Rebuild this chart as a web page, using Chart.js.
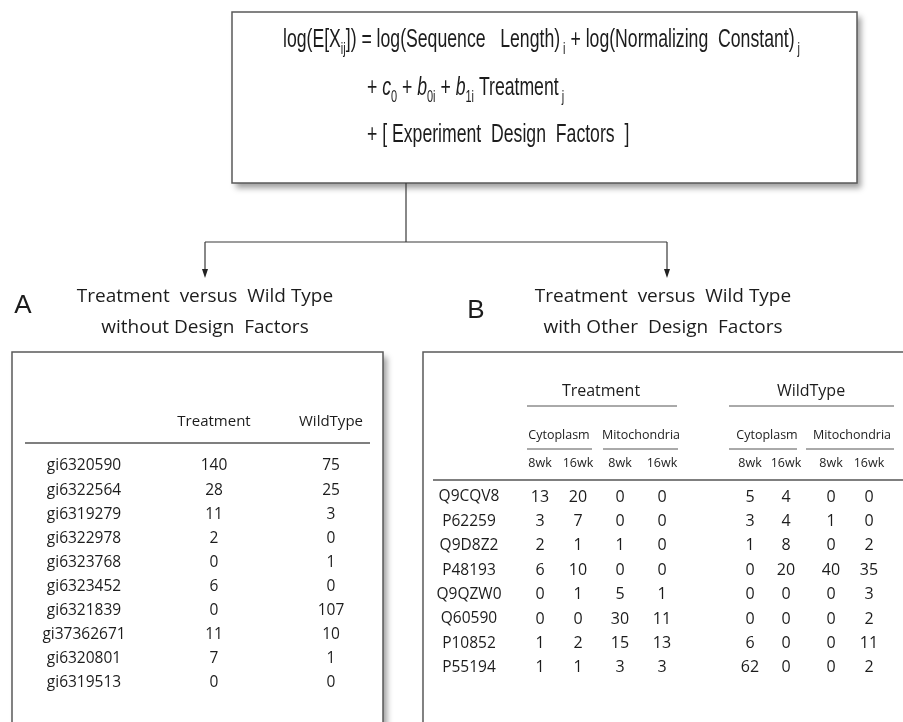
<!DOCTYPE html>
<html>
<head>
<meta charset="utf-8">
<title>Spectral count model</title>
<script src="https://cdn.jsdelivr.net/npm/chart.js@4.4.1/dist/chart.umd.min.js"></script>
<style>
  html, body { margin: 0; padding: 0; background: #ffffff; }
  #wrap { width: 903px; height: 722px; position: relative; }
</style>
</head>
<body>
<div id="wrap"><canvas id="c"></canvas></div>
<script>
// ---- Table A: treatment versus wild type, no design factors ----
const proteinsA = ['gi6320590', 'gi6322564', 'gi6319279', 'gi6322978', 'gi6323768',
                   'gi6323452', 'gi6321839', 'gi37362671', 'gi6320801', 'gi6319513'];
const columnsA = ['Treatment', 'WildType'];
const treatmentA = [140, 28, 11, 2, 0, 6, 0, 11, 7, 0];
const wildTypeA = [75, 25, 3, 0, 1, 0, 107, 10, 1, 0];

// ---- Table B: treatment versus wild type with compartment and time factors ----
const proteinsB = ['Q9CQV8', 'P62259', 'Q9D8Z2', 'P48193', 'Q9QZW0', 'Q60590', 'P10852', 'P55194'];
const groupsB = ['Treatment', 'WildType'];
const compartmentsB = ['Cytoplasm', 'Mitochondria'];
const timepointsB = ['8wk', '16wk'];
const treatCyto8 = [13, 3, 2, 6, 0, 0, 1, 1];
const treatCyto16 = [20, 7, 1, 10, 1, 0, 2, 1];
const treatMito8 = [0, 0, 1, 0, 5, 30, 15, 3];
const treatMito16 = [0, 0, 0, 0, 1, 11, 13, 3];
const wildCyto8 = [5, 3, 1, 0, 0, 0, 6, 62];
const wildCyto16 = [4, 4, 8, 20, 0, 0, 0, 0];
const wildMito8 = [0, 1, 0, 40, 0, 0, 0, 0];
const wildMito16 = [0, 0, 2, 35, 3, 2, 11, 2];

// ---- Panel titles ----
const panelLetters = ['A', 'B'];
const panelTitlesA = ['Treatment  versus  Wild Type', 'without Design  Factors'];
const panelTitlesB = ['Treatment  versus  Wild Type', 'with Other  Design  Factors'];

// ---- Model formula, split into runs (sub = subscript, it = italic) ----
const formulaLines = [
  [{t: 'log(E[X'}, {t: 'ij', sub: true}, {t: ']) = log(Sequence   Length)'}, {t: ' i', sub: true},
   {t: ' + log(Normalizing  Constant)'}, {t: ' j', sub: true}],
  [{t: '+ '}, {t: 'c', it: true}, {t: '0', sub: true}, {t: ' + '}, {t: 'b', it: true}, {t: '0i', sub: true},
   {t: ' + '}, {t: 'b', it: true}, {t: '1i', sub: true}, {t: ' Treatment'}, {t: ' j', sub: true}],
  [{t: '+ [ Experiment  Design  Factors  ]'}]
];

// ---- Layout (page units, mapped through the chart's x / y scales) ----
const L = {
  formulaBox: {x0: 232, y0: 12, x1: 857, y1: 183},
  formulaX: [283, 367, 367],
  formulaY: [47, 95, 142],
  formulaSize: 26.5,
  formulaWidth: 517,
  stemX: 406, branchY: 242, arrowA: 205, arrowB: 667, arrowTip: 278,
  letterPos: [[23, 306], [476, 311]],
  titleA: {x: 205, y: [297, 328]},
  titleB: {x: 663, y: [297, 328]},
  boxA: {x0: 12, y0: 352, x1: 383, y1: 740},
  boxB: {x0: 423, y0: 352, x1: 915, y1: 740},
  // table A
  aHeadY: 422, aRuleY: 443, aRule: [25, 370],
  aLabelX: 84, aColX: [214, 331], aRow0: 466, aRowStep: 24.1,
  // table B
  bGroupY: 391, bGroupX: [601, 811], bGroupRuleY: 406, bGroupRule: [[527, 677], [729, 894]],
  bCompY: 435, bCompX: [559, 641, 767, 852], bCompRuleY: 449,
  bCompRule: [[527, 592], [603, 678], [729, 797], [806, 894]],
  bTimeY: 463, bRuleY: 480, bRule: [433, 910],
  bLabelX: 469, bColX: [540, 578, 620, 662, 750, 786, 831, 869], bRow0: 497, bRowStep: 24.4
};

const INK = '#1c1c1c';
const EDGE = '#5a5a5a';
const TABLE_FONT = '"Open Sans", "Noto Sans", sans-serif';

// One dataset per table column; each value sits at its row on the page scales.
function columnDataset(values, colX, row0, step, font, table) {
  return {
    data: values.map((v, i) => ({x: colX, y: row0 + i * step, text: String(v)})),
    pointRadius: 0, pointHoverRadius: 0, showLine: false,
    cellFont: font, table: table
  };
}

const datasets = [
  columnDataset(proteinsA, L.aLabelX, L.aRow0, L.aRowStep, '15.5px', 'A'),
  columnDataset(treatmentA, L.aColX[0], L.aRow0, L.aRowStep, '15.5px', 'A'),
  columnDataset(wildTypeA, L.aColX[1], L.aRow0, L.aRowStep, '15.5px', 'A'),
  columnDataset(proteinsB, L.bLabelX, L.bRow0, L.bRowStep, '15.5px', 'B')
];
[treatCyto8, treatCyto16, treatMito8, treatMito16, wildCyto8, wildCyto16, wildMito8, wildMito16]
  .forEach((vals, k) => datasets.push(columnDataset(vals, L.bColX[k], L.bRow0, L.bRowStep, '16px', 'B')));

function drawRich(ctx, runs, x, y, size, scaleX) {
  ctx.save();
  ctx.translate(x, y);
  ctx.scale(scaleX, 1);
  let cx = 0;
  runs.forEach(r => {
    const sz = r.sub ? size * 0.62 : size;
    ctx.font = (r.it ? 'italic ' : '') + sz + 'px "Liberation Sans Narrow", "Liberation Sans", sans-serif';
    ctx.fillText(r.t, cx, r.sub ? size * 0.26 : 0);
    cx += ctx.measureText(r.t).width;
  });
  ctx.restore();
}

function richWidth(ctx, runs, size) {
  let w = 0;
  runs.forEach(r => {
    const sz = r.sub ? size * 0.62 : size;
    ctx.font = (r.it ? 'italic ' : '') + sz + 'px "Liberation Sans Narrow", "Liberation Sans", sans-serif';
    w += ctx.measureText(r.t).width;
  });
  return w;
}

function shadowBox(ctx, x0, y0, x1, y1) {
  ctx.save();
  ctx.shadowColor = 'rgba(0,0,0,0.38)';
  ctx.shadowBlur = 6;
  ctx.shadowOffsetX = 4;
  ctx.shadowOffsetY = 5;
  ctx.fillStyle = '#ffffff';
  ctx.fillRect(x0, y0, x1 - x0, y1 - y0);
  ctx.restore();
  ctx.save();
  ctx.strokeStyle = EDGE;
  ctx.lineWidth = 1.5;
  ctx.strokeRect(x0, y0, x1 - x0, y1 - y0);
  ctx.restore();
}

function hLine(ctx, x0, x1, y, w) {
  ctx.beginPath();
  ctx.moveTo(x0, y);
  ctx.lineTo(x1, y);
  ctx.lineWidth = w;
  ctx.stroke();
}

const diagramPlugin = {
  id: 'diagram',
  beforeDatasetsDraw(chart) {
    const ctx = chart.ctx;
    const X = v => chart.scales.x.getPixelForValue(v);
    const Y = v => chart.scales.y.getPixelForValue(v);
    ctx.save();

    // formula box
    const fb = L.formulaBox;
    shadowBox(ctx, X(fb.x0), Y(fb.y0), X(fb.x1), Y(fb.y1));
    ctx.fillStyle = INK;
    ctx.textBaseline = 'alphabetic';
    ctx.textAlign = 'left';
    const natural = richWidth(ctx, formulaLines[0], L.formulaSize);
    const squeeze = (X(L.formulaX[0] + L.formulaWidth) - X(L.formulaX[0])) / natural;
    formulaLines.forEach((runs, i) => drawRich(ctx, runs, X(L.formulaX[i]), Y(L.formulaY[i]), L.formulaSize, squeeze));

    // connectors and arrows
    ctx.strokeStyle = '#3a3a3a';
    ctx.lineWidth = 1.2;
    ctx.beginPath();
    ctx.moveTo(X(L.stemX), Y(fb.y1));
    ctx.lineTo(X(L.stemX), Y(L.branchY));
    ctx.moveTo(X(L.arrowA), Y(L.branchY));
    ctx.lineTo(X(L.arrowB), Y(L.branchY));
    [L.arrowA, L.arrowB].forEach(ax => {
      ctx.moveTo(X(ax), Y(L.branchY));
      ctx.lineTo(X(ax), Y(L.arrowTip) - 6);
    });
    ctx.stroke();
    ctx.fillStyle = '#222';
    [L.arrowA, L.arrowB].forEach(ax => {
      ctx.beginPath();
      ctx.moveTo(X(ax), Y(L.arrowTip));
      ctx.lineTo(X(ax) - 3, Y(L.arrowTip) - 9);
      ctx.lineTo(X(ax) + 3, Y(L.arrowTip) - 9);
      ctx.closePath();
      ctx.fill();
    });

    // panel letters and titles
    ctx.fillStyle = INK;
    ctx.textAlign = 'center';
    ctx.textBaseline = 'middle';
    ctx.font = '26px "Liberation Sans", Arial, sans-serif';
    panelLetters.forEach((p, i) => ctx.fillText(p, X(L.letterPos[i][0]), Y(L.letterPos[i][1])));
    ctx.font = '19px ' + TABLE_FONT;
    panelTitlesA.forEach((t, i) => ctx.fillText(t, X(L.titleA.x), Y(L.titleA.y[i])));
    panelTitlesB.forEach((t, i) => ctx.fillText(t, X(L.titleB.x), Y(L.titleB.y[i])));

    // table boxes
    shadowBox(ctx, X(L.boxA.x0), Y(L.boxA.y0), X(L.boxA.x1), Y(L.boxA.y1));
    shadowBox(ctx, X(L.boxB.x0), Y(L.boxB.y0), X(L.boxB.x1), Y(L.boxB.y1));

    // table A header
    ctx.fillStyle = INK;
    ctx.font = '15px ' + TABLE_FONT;
    columnsA.forEach((c, i) => ctx.fillText(c, X(L.aColX[i]), Y(L.aHeadY)));
    ctx.strokeStyle = '#555';
    hLine(ctx, X(L.aRule[0]), X(L.aRule[1]), Y(L.aRuleY), 1.3);

    // table B header
    ctx.font = '16px ' + TABLE_FONT;
    groupsB.forEach((g, i) => ctx.fillText(g, X(L.bGroupX[i]), Y(L.bGroupY)));
    L.bGroupRule.forEach(r => hLine(ctx, X(r[0]), X(r[1]), Y(L.bGroupRuleY), 1));
    ctx.font = '12.5px ' + TABLE_FONT;
    L.bCompX.forEach((cx, k) => ctx.fillText(compartmentsB[k % 2], X(cx), Y(L.bCompY)));
    L.bCompRule.forEach(r => hLine(ctx, X(r[0]), X(r[1]), Y(L.bCompRuleY), 1));
    ctx.font = '12.5px ' + TABLE_FONT;
    L.bColX.forEach((cx, k) => ctx.fillText(timepointsB[k % 2], X(cx), Y(L.bTimeY)));
    hLine(ctx, X(L.bRule[0]), X(L.bRule[1]), Y(L.bRuleY), 1.3);

    ctx.restore();
  },
  afterDatasetsDraw(chart) {
    const ctx = chart.ctx;
    ctx.save();
    ctx.fillStyle = INK;
    ctx.textAlign = 'center';
    ctx.textBaseline = 'middle';
    chart.data.datasets.forEach((ds, di) => {
      const meta = chart.getDatasetMeta(di);
      ctx.font = ds.cellFont + ' ' + TABLE_FONT;
      meta.data.forEach((pt, i) => ctx.fillText(ds.data[i].text, pt.x, pt.y));
    });
    ctx.restore();
  }
};

new Chart(document.getElementById('c'), {
  type: 'scatter',
  data: {datasets: datasets},
  options: {
    responsive: true,
    maintainAspectRatio: false,
    animation: false,
    events: [],
    layout: {padding: 0},
    plugins: {legend: {display: false}, tooltip: {enabled: false}},
    scales: {
      x: {type: 'linear', min: 0, max: 903, display: false},
      y: {type: 'linear', min: 0, max: 722, reverse: true, display: false}
    }
  },
  plugins: [diagramPlugin]
});
</script>
</body>
</html>
